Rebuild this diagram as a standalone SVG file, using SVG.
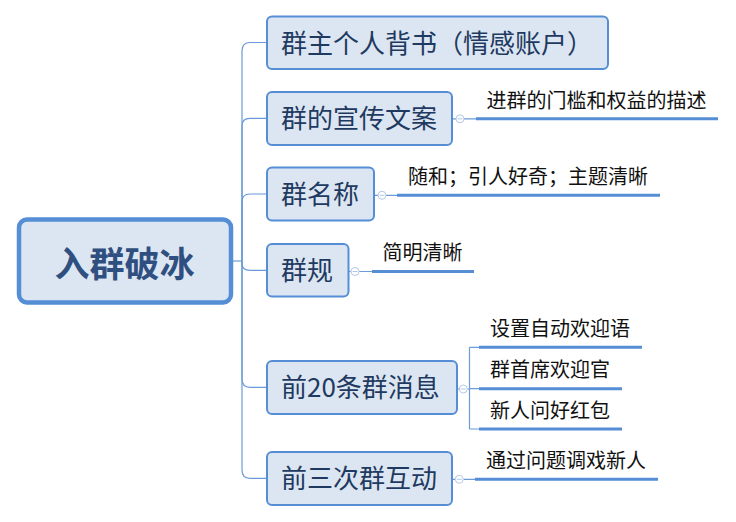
<svg xmlns="http://www.w3.org/2000/svg" width="736" height="522" viewBox="0 0 736 522">
<style>
.box{fill:#dce6f2;stroke:#558ed5;stroke-width:2}
.root{fill:#dce6f2;stroke:#558ed5;stroke-width:4.5}
.t{font-family:"Noto Sans CJK SC","Microsoft YaHei",sans-serif;font-size:26px;fill:#1f3a60}
.rt{font-family:"Noto Sans CJK SC","Microsoft YaHei",sans-serif;font-size:35px;font-weight:bold;fill:#2f4f80;text-anchor:middle}
.s{font-family:"Noto Sans CJK SC","Microsoft YaHei",sans-serif;font-size:20px;fill:#111}
.c{fill:none;stroke:#6a9ad8;stroke-width:1.2}
.u{fill:none;stroke:#558ed5;stroke-width:3}
.k{fill:#fff;stroke:#b4c8e6;stroke-width:1}
.m{stroke:#b4c8e6;stroke-width:1}
</style>
<rect width="736" height="522" fill="#fff"/>
<g id="connectors">
<path class="c" d="M232 261H242"/>
<path class="c" d="M242 261V51Q242 42.5 250 42.5H267"/>
<path class="c" d="M242 261V126Q242 118.3 250 118.3H267"/>
<path class="c" d="M242 261V202Q242 194 250 194H267"/>
<path class="c" d="M242 261V264Q242 270.3 250 270.3H267"/>
<path class="c" d="M242 261V379Q242 387.3 250 387.3H267"/>
<path class="c" d="M242 261V470Q242 478.3 250 478.3H267"/>
<path class="c" d="M452 118.8H456M464 118.8H476"/>
<path class="c" d="M374 195.3H378M386 195.3H397"/>
<path class="c" d="M348.5 271.5H351M359 271.5H372"/>
<path class="c" d="M457 389H459M467.5 389H469.5M469.5 347.3V429M469.5 347.3H479M469.5 388.7H479M469.5 429H479"/>
<path class="c" d="M452 479.3H455M463.5 479.3H475"/>
</g>
<g id="root">
<rect class="root" x="19" y="219.5" width="212" height="83" rx="8"/>
<text class="rt" x="124.5" y="277">入群破冰</text>
</g>
<g id="n1">
<rect class="box" x="267" y="16.5" width="341" height="52.5" rx="5"/>
<text class="t" x="281" y="52.5">群主个人背书（情感账户）</text>
</g>
<g id="n2">
<rect class="box" x="267" y="92" width="185" height="53" rx="5"/>
<text class="t" x="281" y="128.3">群的宣传文案</text>
<circle class="k" cx="460" cy="118.8" r="4"/><path class="m" d="M457.5 118.8H462.5"/>
</g>
<g id="n2a">
<text class="s" x="486.5" y="108">进群的门槛和权益的描述</text>
<path class="u" d="M476 118.8H718"/>
</g>
<g id="n3">
<rect class="box" x="267" y="167.5" width="107" height="53" rx="5"/>
<text class="t" x="281" y="204">群名称</text>
<circle class="k" cx="382" cy="195.3" r="4"/><path class="m" d="M379.5 195.3H384.5"/>
</g>
<g id="n3a">
<text class="s" x="408" y="184">随和；引人好奇；主题清晰</text>
<path class="u" d="M397 195.3H660"/>
</g>
<g id="n4">
<rect class="box" x="267" y="244" width="81.5" height="52.5" rx="5"/>
<text class="t" x="281" y="280.3">群规</text>
<circle class="k" cx="355" cy="271.5" r="4"/><path class="m" d="M352.5 271.5H357.5"/>
</g>
<g id="n4a">
<text class="s" x="382.5" y="259.5">简明清晰</text>
<path class="u" d="M372 271.5H474"/>
</g>
<g id="n5">
<rect class="box" x="267" y="361" width="190" height="53" rx="5"/>
<text class="t" x="281" y="397.3">前20条群消息</text>
<circle class="k" cx="463.3" cy="389" r="4"/><path class="m" d="M460.8 389H465.8"/>
</g>
<g id="n5a">
<text class="s" x="490" y="336">设置自动欢迎语</text>
<path class="u" d="M479 347.3H642"/>
</g>
<g id="n5b">
<text class="s" x="490" y="377">群首席欢迎官</text>
<path class="u" d="M479 388.7H622"/>
</g>
<g id="n5c">
<text class="s" x="490" y="418">新人问好红包</text>
<path class="u" d="M479 429H622"/>
</g>
<g id="n6">
<rect class="box" x="267" y="452" width="185" height="53" rx="5"/>
<text class="t" x="281" y="488.3">前三次群互动</text>
<circle class="k" cx="459.3" cy="479.3" r="4"/><path class="m" d="M456.8 479.3H461.8"/>
</g>
<g id="n6a">
<text class="s" x="486" y="468">通过问题调戏新人</text>
<path class="u" d="M475 479.3H658"/>
</g>
</svg>
